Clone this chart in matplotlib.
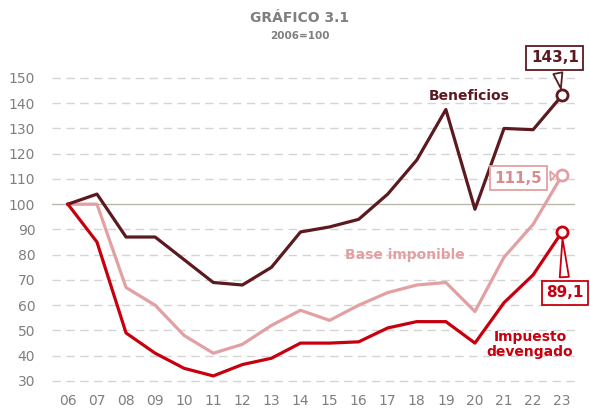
import numpy as np
import matplotlib.pyplot as plt

years = ["06", "07", "08", "09", "10", "11", "12", "13", "14", "15",
         "16", "17", "18", "19", "20", "21", "22", "23"]
beneficios = [100, 104, 87, 87, 78, 69, 68, 75, 89, 91,
              94, 104, 117.5, 137.5, 98, 130, 129.5, 143.1]
base_imponible = [100, 100, 67, 60, 48, 41, 44.5, 52, 58, 54,
                  60, 65, 68, 69, 57.5, 79, 92, 111.5]
impuesto = [100, 85, 49, 41, 35, 32, 36.5, 39, 45, 45,
            45.5, 51, 53.5, 53.5, 45, 61, 72, 89.1]

c_ben = "#5c1a20"
c_base = "#e3a0a2"
c_imp = "#c8000e"
c_tick = "#7f7f7f"

plt.rcParams['font.family'] = ['DejaVu Sans']

fig = plt.figure(figsize=(5.9, 4.09), dpi=100)
ax = fig.add_axes([0.088, 0.05, 0.887, 0.778])

x = np.arange(len(years))

# grid: dashed lines, solid line at the base value
for v in range(30, 160, 10):
    if v == 100:
        ax.axhline(v, color="#b8b8a8", lw=1.0, zorder=1)
    else:
        ax.axhline(v, color="#d4d4d4", lw=1.0, ls=(0, (6, 4)), zorder=1)

ax.plot(x, base_imponible, color=c_base, lw=2.3, zorder=3)
ax.plot(x, beneficios, color=c_ben, lw=2.3, zorder=4)
ax.plot(x, impuesto, color=c_imp, lw=2.3, zorder=5)

for s, c in [(beneficios, c_ben), (base_imponible, c_base), (impuesto, c_imp)]:
    ax.plot(x[-1], s[-1], 'o', ms=8, mfc="white", mec=c, mew=2, zorder=8)

ax.set_xlim(-0.55, 17.45)
ax.set_ylim(27, 153)
ax.set_xticks(x)
ax.set_xticklabels(years)
ax.set_yticks(range(30, 160, 10))
ax.tick_params(length=0, colors=c_tick, labelsize=10, pad=4)
ax.tick_params(axis='y', pad=12)
for sp in ax.spines.values():
    sp.set_visible(False)

# series labels
ax.text(13.8, 143, "Beneficios", color=c_ben, fontsize=10, fontweight="bold",
        ha="center", va="center")
ax.text(11.6, 80, "Base imponible", color=c_base, fontsize=10, fontweight="bold",
        ha="center", va="center")
ax.text(15.9, 44.5, "Impuesto\ndevengado", color=c_imp, fontsize=10, fontweight="bold",
        ha="center", va="center", linespacing=1.1)

def callout(val, xy_text, color, tcolor=None):
    ax.annotate(f"{val:.1f}".replace(".", ","), xy=(x[-1], val), xytext=xy_text,
                color=tcolor or color, fontsize=11, fontweight="bold",
                ha="center", va="center",
                bbox=dict(boxstyle="square,pad=0.3", fc="white", ec=color, lw=1.3),
                arrowprops=dict(arrowstyle="wedge,tail_width=0.6,shrink_factor=0.5",
                                fc="white", ec=color, lw=1.3, shrinkB=5),
                zorder=7, annotation_clip=False)

callout(beneficios[-1], (16.75, 158), c_ben)
callout(base_imponible[-1], (15.5, 110.3), c_base, "#d88c8e")
callout(impuesto[-1], (17.1, 65), c_imp)

fig.text(0.508, 0.957, "GRÁFICO 3.1", color=c_tick, fontsize=10, fontweight="bold",
         ha="center", va="center")
fig.text(0.508, 0.912, "2006=100", color=c_tick, fontsize=7.5, fontweight="bold",
         ha="center", va="center")

plt.savefig("out.png", dpi=100)
